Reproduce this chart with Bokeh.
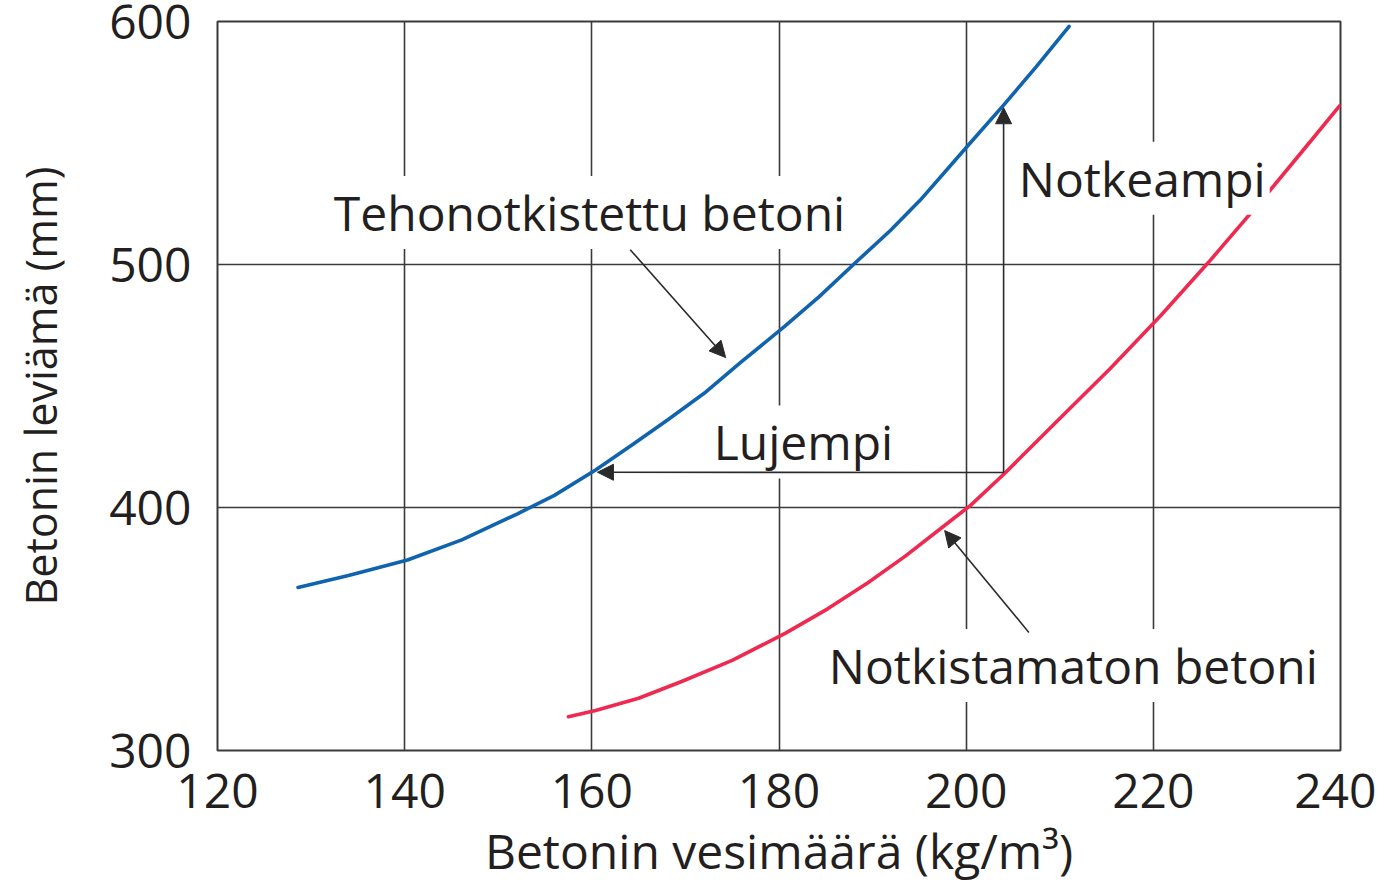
from bokeh.plotting import figure
from bokeh.models import Label, Arrow, NormalHead, Range1d, FixedTicker
from bokeh.embed import file_html
from bokeh.resources import INLINE

# Data
x_ticks = [120, 140, 160, 180, 200, 220, 240]
y_ticks = [300, 400, 500, 600]

tehon_x = [128.6, 134.0, 140.3, 146.1, 152.0, 156.0, 160.4, 164.4, 168.2, 172.0,
           176.0, 180.6, 184.3, 188.1, 191.9, 195.1, 200.5, 204.0, 207.5, 211.0]
tehon_y = [367.1, 372.0, 378.4, 386.7, 397.3, 405.0, 415.4, 426.0, 436.3, 447.0,
           460.0, 474.5, 486.8, 500.5, 514.0, 526.5, 550.3, 565.6, 581.4, 598.0]

notk_x = [157.5, 160.4, 165.0, 169.6, 175.0, 180.7, 185.2, 189.5, 193.5, 197.9,
          200.5, 204.1, 210.0, 215.4, 220.8, 225.9, 231.6, 235.9, 239.9]
notk_y = [313.9, 316.5, 321.5, 328.4, 337.1, 348.3, 358.3, 369.0, 380.0, 393.2,
          401.0, 414.0, 436.6, 457.2, 479.0, 500.9, 526.5, 546.5, 565.3]

FONT = "Open Sans"
TXT = "#231f20"
GRID = "#3a3a3a"

p = figure(width=1376, height=886, x_range=Range1d(120, 240), y_range=Range1d(300, 600),
           output_backend="svg", toolbar_location=None,
           min_border_left=217, min_border_right=36, min_border_top=21, min_border_bottom=136)
p.title = None
p.background_fill_color = "white"
p.border_fill_color = "white"
p.outline_line_color = GRID
p.outline_line_width = 2

p.xaxis.ticker = FixedTicker(ticks=x_ticks)
p.yaxis.ticker = FixedTicker(ticks=y_ticks)
for ax in (p.xaxis, p.yaxis):
    ax.axis_line_color = None
    ax.major_tick_line_color = None
    ax.minor_tick_line_color = None
    ax.major_tick_out = 0
    ax.major_tick_in = 0
    ax.major_label_text_font = FONT
    ax.major_label_text_font_size = "48px"
    ax.major_label_text_color = TXT
    ax.axis_label_text_font = FONT
    ax.axis_label_text_font_style = "normal"
    ax.axis_label_text_color = TXT

p.xaxis.axis_label = "Betonin vesimäärä (kg/m³)"
p.yaxis.axis_label = "Betonin leviämä (mm)"
p.xaxis.axis_label_text_font_size = "48px"
p.yaxis.axis_label_text_font_size = "43px"
p.xaxis.major_label_standoff = 23
p.yaxis.major_label_standoff = 26
p.xaxis.axis_label_standoff = 7
p.yaxis.axis_label_standoff = 36

p.xgrid.ticker = FixedTicker(ticks=x_ticks)
p.ygrid.ticker = FixedTicker(ticks=y_ticks)
for g in (p.xgrid, p.ygrid):
    g.grid_line_color = GRID
    g.grid_line_width = 1.6

p.line(tehon_x, tehon_y, line_color="#1063ad", line_width=3.6, line_join="round", line_cap="round")
p.line(notk_x, notk_y, line_color="#ee2a50", line_width=3.6, line_join="round", line_cap="round")

def label(x, y, text):
    p.add_layout(Label(x=x, y=y, text=text, text_font=FONT, text_font_size="48px",
                       text_color=TXT, text_baseline="alphabetic", text_align="left",
                       background_fill_color="white", padding=4))

label(132.0, 521.4, "Tehonotkistettu betoni")
label(205.2, 535.5, "Notkeampi")
label(172.6, 427.0, "Lujempi")
label(184.9, 335.0, "Notkistamaton betoni")

def arrow(x0, y0, x1, y1):
    p.add_layout(Arrow(x_start=x0, y_start=y0, x_end=x1, y_end=y1,
                       line_color="#2a2a2a", line_width=1.6,
                       end=NormalHead(size=16, fill_color="#2a2a2a", line_color="#2a2a2a")))

arrow(164.1, 506.1, 174.3, 461.7)
arrow(204.0, 414.4, 204.0, 564.5)
arrow(204.0, 414.4, 160.6, 414.5)
arrow(206.7, 348.6, 197.7, 390.5)

open("out.html", "w").write(file_html(p, INLINE))
